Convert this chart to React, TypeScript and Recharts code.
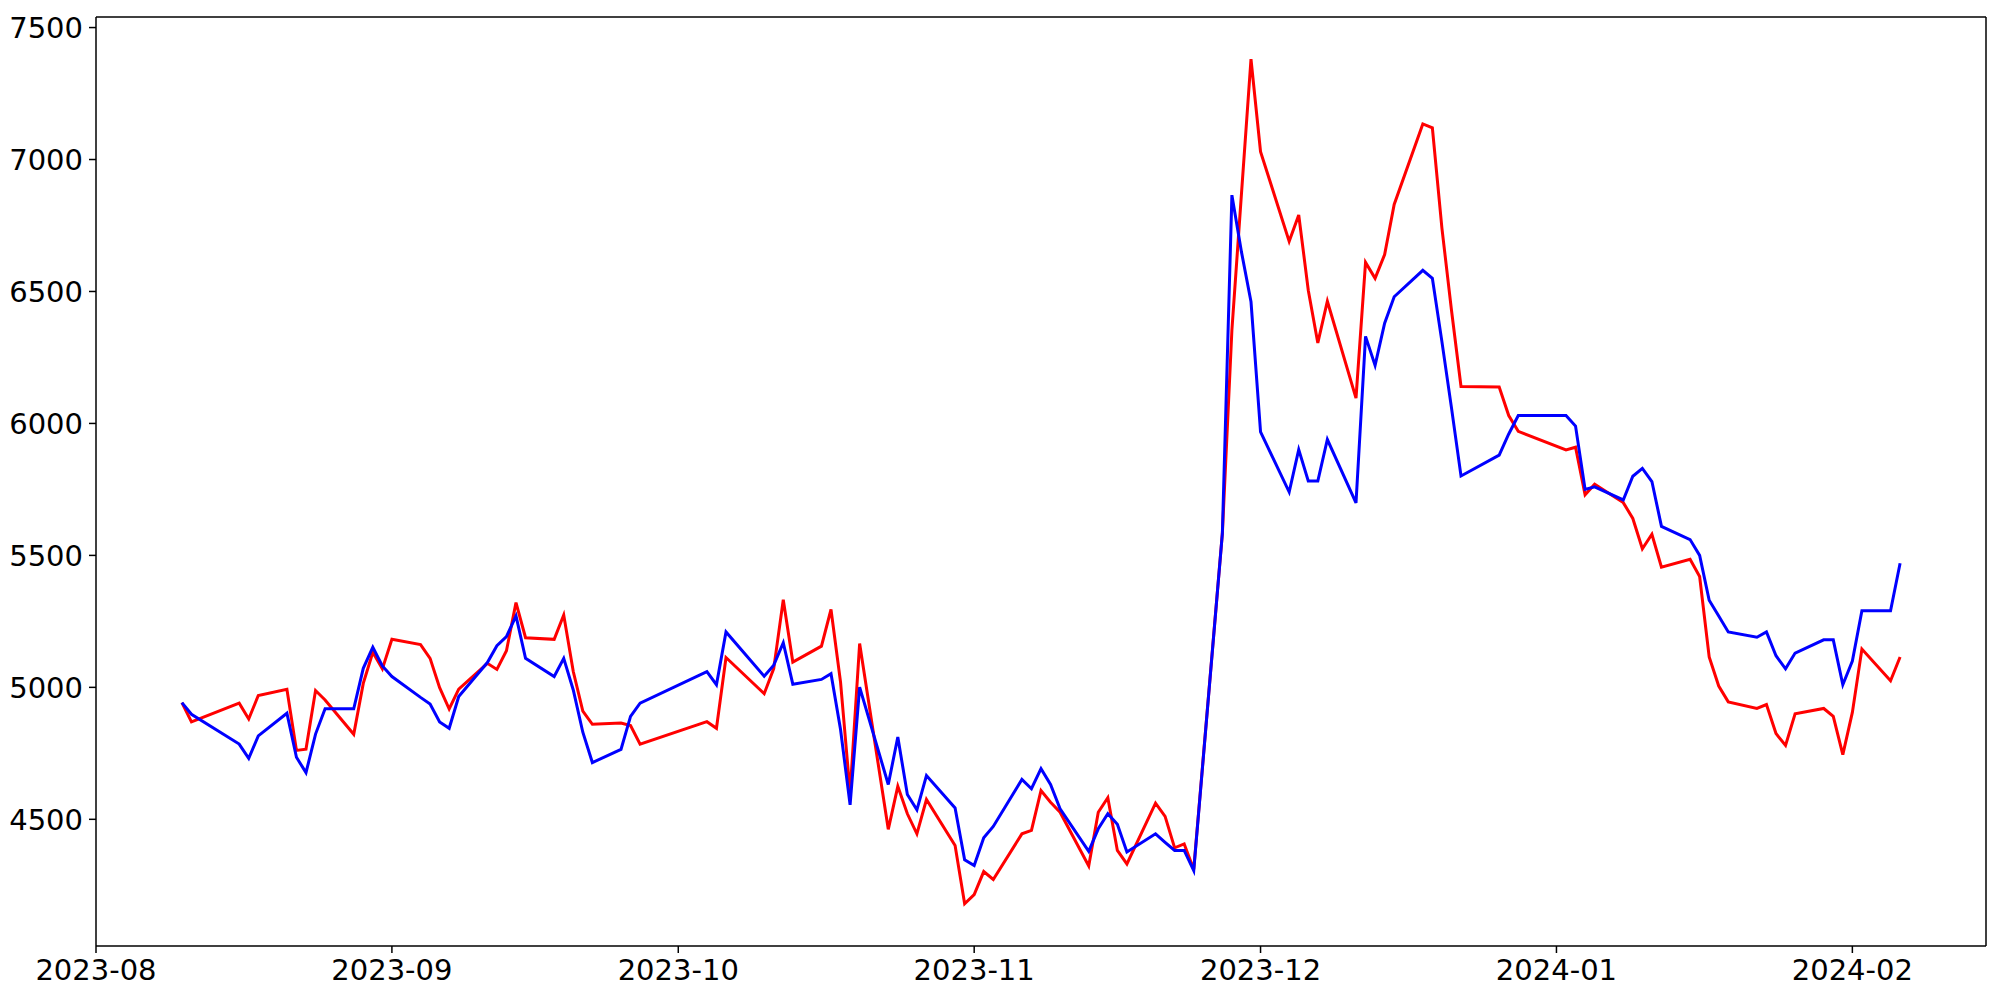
import React from 'react';
import { LineChart, Line, XAxis, YAxis, ReferenceLine } from 'recharts';

const dates = [
  "2023-08-10","2023-08-11","2023-08-16","2023-08-17","2023-08-18",
  "2023-08-21","2023-08-22","2023-08-23","2023-08-24","2023-08-25",
  "2023-08-28","2023-08-29","2023-08-30","2023-08-31","2023-09-01",
  "2023-09-04","2023-09-05","2023-09-06","2023-09-07","2023-09-08",
  "2023-09-11","2023-09-12","2023-09-13","2023-09-14","2023-09-15",
  "2023-09-18","2023-09-19","2023-09-20","2023-09-21","2023-09-22",
  "2023-09-25","2023-09-26","2023-09-27",
  "2023-10-04","2023-10-05","2023-10-06",
  "2023-10-10","2023-10-11","2023-10-12","2023-10-13",
  "2023-10-16","2023-10-17","2023-10-18","2023-10-19","2023-10-20",
  "2023-10-23","2023-10-24","2023-10-25","2023-10-26","2023-10-27",
  "2023-10-30","2023-10-31","2023-11-01","2023-11-02","2023-11-03",
  "2023-11-06","2023-11-07","2023-11-08","2023-11-09","2023-11-10",
  "2023-11-13","2023-11-14","2023-11-15","2023-11-16","2023-11-17",
  "2023-11-20","2023-11-21","2023-11-22","2023-11-23","2023-11-24",
  "2023-11-27","2023-11-28","2023-11-29","2023-11-30","2023-12-01",
  "2023-12-04","2023-12-05","2023-12-06","2023-12-07","2023-12-08",
  "2023-12-11","2023-12-12","2023-12-13","2023-12-14","2023-12-15",
  "2023-12-18","2023-12-19","2023-12-20","2023-12-21","2023-12-22",
  "2023-12-26","2023-12-27","2023-12-28",
  "2024-01-02","2024-01-03","2024-01-04","2024-01-05",
  "2024-01-08","2024-01-09","2024-01-10","2024-01-11","2024-01-12",
  "2024-01-15","2024-01-16","2024-01-17","2024-01-18","2024-01-19",
  "2024-01-22","2024-01-23","2024-01-24","2024-01-25","2024-01-26",
  "2024-01-29","2024-01-30","2024-01-31","2024-02-01","2024-02-02",
  "2024-02-05","2024-02-06",
];

const redValues = [
  4942, 4869, 4940, 4880, 4969,
  4993, 4761, 4766, 4988, 4952,
  4822, 5015, 5133, 5070, 5182,
  5162, 5110, 4999, 4918, 4993,
  5091, 5068, 5139, 5321, 5188,
  5182, 5274, 5060, 4910, 4860,
  4865, 4855, 4785,
  4870, 4845, 5113,
  4976, 5071, 5332, 5096,
  5156, 5295, 5020, 4600, 5166,
  4462, 4625, 4521, 4445, 4575,
  4401, 4180, 4215, 4302, 4272,
  4445, 4458, 4609, 4565, 4527,
  4323, 4527, 4582, 4382, 4331,
  4561, 4511, 4392, 4407, 4310,
  5583, 6354, 6870, 7380, 7030,
  6690, 6790, 6505, 6305, 6463,
  6096, 6610, 6550, 6640, 6830,
  7135, 7120, 6740, 6430, 6140,
  6138, 6030, 5970,
  5900, 5910, 5730, 5770,
  5700, 5640, 5525, 5580, 5455,
  5485, 5420, 5115, 5005, 4945,
  4920, 4935, 4825, 4780, 4900,
  4920, 4890, 4745, 4905, 5145,
  5025, 5115,
];

const blueValues = [
  4942, 4898, 4785, 4731, 4816,
  4902, 4735, 4677, 4823, 4919,
  4919, 5072, 5152, 5081, 5041,
  4962, 4937, 4869, 4845, 4965,
  5094, 5158, 5192, 5271, 5110,
  5041, 5110, 4990, 4830, 4715,
  4765, 4890, 4940,
  5060, 5010, 5210,
  5042, 5084, 5169, 5012,
  5030, 5052, 4840, 4555, 5001,
  4632, 4812, 4594, 4536, 4666,
  4543, 4347, 4325, 4430, 4473,
  4651, 4616, 4692, 4632, 4540,
  4379, 4464, 4521, 4481, 4376,
  4445, 4413, 4382, 4382, 4306,
  5583, 6865, 6650, 6461, 5968,
  5740, 5901, 5782, 5782, 5939,
  5699, 6330, 6220, 6380, 6480,
  6580, 6550, 6310, 6060, 5801,
  5880, 5960, 6030,
  6030, 5990, 5750, 5760,
  5710, 5800, 5830, 5780, 5610,
  5560, 5500, 5330, 5270, 5210,
  5190, 5210, 5120, 5070, 5130,
  5180, 5180, 5010, 5100, 5290,
  5290, 5470,
];

const monthTicks = ["2023-08-01","2023-09-01","2023-10-01","2023-11-01","2023-12-01","2024-01-01","2024-02-01"];
const monthLabels = ["2023-08","2023-09","2023-10","2023-11","2023-12","2024-01","2024-02"];
const yTicks = [4500, 5000, 5500, 6000, 6500, 7000, 7500];

const ORIGIN = Date.UTC(2023, 7, 1);
const toDay = (s: string) => {
  const [y, m, d] = s.split('-').map(Number);
  return (Date.UTC(y, m - 1, d) - ORIGIN) / 86400000;
};

const data = dates.map((d, i) => ({ day: toDay(d), red: redValues[i], blue: blueValues[i] }));
const tickDays = monthTicks.map(toDay);
const labelFor = (v: number) => {
  const i = tickDays.indexOf(v);
  return i >= 0 ? monthLabels[i] : '';
};

const X_DOMAIN: [number, number] = [0, 198];
const Y_DOMAIN: [number, number] = [4020, 7540];
const tickStyle = { fill: '#000', fontSize: 29, fontFamily: 'DejaVu Sans' };
const axisLine = { stroke: '#000', strokeWidth: 1.5 };

export default function App() {
  return (
    <div style={{ position: 'absolute', left: 0, top: 0, background: '#fff' }}>
      <LineChart width={2000} height={1000} data={data} margin={{ top: 17, right: 14, left: 0, bottom: 0 }}>
        <XAxis
          dataKey="day"
          type="number"
          domain={X_DOMAIN}
          ticks={tickDays}
          tickFormatter={labelFor}
          interval={0}
          allowDataOverflow
          height={54}
          tick={tickStyle}
          tickSize={7}
          tickMargin={6}
          axisLine={axisLine}
          tickLine={{ stroke: '#000', strokeWidth: 1.5 }}
        />
        <YAxis
          type="number"
          domain={Y_DOMAIN}
          ticks={yTicks}
          interval={0}
          allowDataOverflow
          width={96}
          tick={tickStyle}
          tickSize={7}
          tickMargin={6}
          axisLine={axisLine}
          tickLine={{ stroke: '#000', strokeWidth: 1.5 }}
        />
        <ReferenceLine y={Y_DOMAIN[1]} stroke="#000" strokeWidth={1.5} ifOverflow="visible" />
        <ReferenceLine x={X_DOMAIN[1]} stroke="#000" strokeWidth={1.5} ifOverflow="visible" />
        <Line type="linear" dataKey="red" stroke="#ff0000" strokeWidth={3} dot={false} isAnimationActive={false} />
        <Line type="linear" dataKey="blue" stroke="#0000ff" strokeWidth={3} dot={false} isAnimationActive={false} />
      </LineChart>
    </div>
  );
}
